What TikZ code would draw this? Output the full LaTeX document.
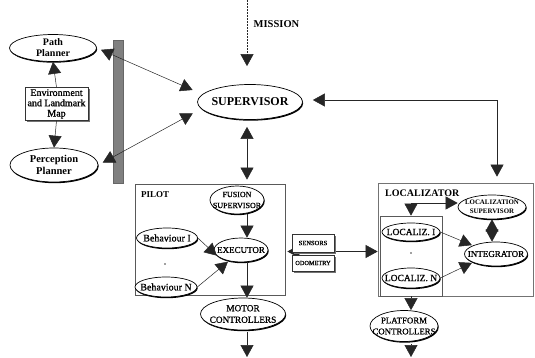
\documentclass[tikz,border=0pt]{standalone}
\usepackage{fontspec}
\setmainfont{Liberation Serif}
\newfontfamily\scanfont{Liberation Serif}[FakeBold=1]
\usetikzlibrary{shapes.geometric,arrows.meta,shadows,calc}
\begin{document}
\begin{tikzpicture}[x=1pt,y=-1pt,
  every node/.style={inner sep=0pt, align=center, font=\scanfont\fontsize{10}{11.5}\selectfont},
  ell/.style={ellipse, draw, line width=0.7pt, fill=white,
    drop shadow={shadow xshift=0.7pt, shadow yshift=-1.2pt, fill=black, opacity=1}},
  boxsh/.style={rectangle, draw=black!80, line width=0.6pt, fill=white,
    drop shadow={shadow xshift=2pt, shadow yshift=-2pt, fill=black!55, opacity=1}},
  frame/.style={rectangle, draw=black!65, line width=0.8pt, fill=white},
  tipA/.tip={Triangle[length=12pt,width=13pt]},
  arr/.style={-tipA, line width=0.5pt, draw=black!85},
  arrtwo/.style={tipA-tipA, line width=0.5pt, draw=black!85},
  bfl/.style n args={2}{font=\bfseries\fontsize{#1}{#2}\selectfont},
  rml/.style n args={2}{font=\scanfont\fontsize{#1}{#2}\selectfont}
]
\useasboundingbox (0,0) rectangle (535,358);

% left column
\node[ell, minimum width=87pt, minimum height=27pt,
  label={[bfl={10}{11}]center:Path\\Planner}] (pp) at (53,48) {};
\node[boxsh, minimum width=63pt, minimum height=33pt, rml={10}{10.3}] (env) at (56.5,104)
  {Environment\\and Landmark\\Map};
\node[ell, minimum width=88pt, minimum height=34pt,
  label={[bfl={10.5}{12}]center:Perception\\Planner}] (pc) at (54,165) {};
\filldraw[fill=black!50, draw=black!60, line width=0.4pt] (113,40) rectangle (123,183);

% supervisor
\node[ell, minimum width=105pt, minimum height=35pt,
  label={[bfl={12}{14}]center:SUPERVISOR}] (sup) at (250,102) {};
\node[bfl={10.5}{12}] (mission) at (276.5,24) {MISSION};
\coordinate (mtop) at (247,0);

% pilot
\node[frame, minimum width=150pt, minimum height=111pt] (pilot) at (210,239.5) {};
\node[bfl={9}{11}, anchor=west] (pilotlbl) at (141,195) {PILOT};
\node[ell, minimum width=54pt, minimum height=28pt,
  label={[rml={8}{11}]center:FUSION\\SUPERVISOR}] (fus) at (237,200) {};
\node[ell, minimum width=54pt, minimum height=24pt,
  label={[rml={9}{10}]center:EXECUTOR}] (exec) at (241,250) {};
\node[ell, minimum width=61pt, minimum height=20pt,
  label={[rml={10}{11}]center:Behaviour I}] (b1) at (167,238) {};
\node[ell, minimum width=62pt, minimum height=20pt,
  label={[rml={10}{11}]center:Behaviour N}] (bn) at (166,287) {};
\node[rml={9}{10}] (pdots) at (165,264) {.};
\node[ell, minimum width=85pt, minimum height=32pt,
  label={[rml={9.3}{11.5}]center:MOTOR\\CONTROLLERS}] (motor) at (243,314) {};
\coordinate (mend) at (247,357);

% localizator
\node[rectangle, draw=black!55, line width=0.7pt, fill=white,
  minimum width=155pt, minimum height=113pt] (loc) at (455.5,239.5) {};
\node[bfl={10}{11}, anchor=west] (loclbl) at (385,193) {LOCALIZATOR};
\node[rectangle, draw=black!65, line width=0.7pt,
  minimum width=62pt, minimum height=80pt] (inner) at (411,256) {};
\node[ell, minimum width=58pt, minimum height=18pt,
  label={[rml={9.5}{11}]center:LOCALIZ. I}] (li) at (411,232) {};
\node[ell, minimum width=58pt, minimum height=20pt,
  label={[rml={9.5}{11}]center:LOCALIZ. N}] (ln) at (411,278) {};
\node[rml={9}{10}] (ldots) at (411,253) {.};
\node[ell, minimum width=68pt, minimum height=24pt,
  label={[bfl={6.9}{8.5}]center:LOCALIZATION\\SUPERVISOR}] (locsup) at (492,207) {};
\node[ell, minimum width=63pt, minimum height=24pt,
  label={[rml={9}{10}]center:INTEGRATOR}] (integ) at (496,254) {};
\node[ell, minimum width=68pt, minimum height=31pt,
  label={[rml={8.8}{11}]center:PLATFORM\\CONTROLLERS}] (plat) at (404,326) {};
\coordinate (pend) at (411,357);

% sensors arrow (under boxes)
\draw[arrtwo, shorten <=2pt] ([yshift=-12pt]pilot.east) -- ([yshift=-12pt]loc.west);
\node[boxsh, minimum width=42pt, minimum height=18pt, rml={6.5}{8}] (sens) at (313,243) {SENSORS};
\node[boxsh, minimum width=42pt, minimum height=16pt, rml={6.3}{8}] (odo) at (313,263) {ODOMETRY};

% connectors
\draw[arr, densely dotted] (mtop) -- ([yshift=18pt]mtop |- sup.north);
\draw[arrtwo, shorten <=7pt, shorten >=4pt] (mtop |- sup.south) -- (mtop |- pilot.north);
\draw[arrtwo, shorten <=10pt, shorten >=6pt] ([yshift=2pt]sup.east) -| ([xshift=41.5pt]loc.north);
\draw[arrtwo, shorten <=4.5pt, shorten >=5pt] (pp.east) -- ([yshift=10pt]sup.west);
\draw[arrtwo, shorten <=5pt, shorten >=5pt] (pc.east) -- ([yshift=-9pt]sup.west);
\draw[arr] (env.north) -- (pp.south);
\draw[arr] (env.south) -- (pc.north);

\draw[arr] (mtop |- fus.south) -- (mtop |- exec.north);
\draw[arr, shorten >=1pt] (b1.east) -- (exec.195);
\draw[arr, shorten >=1pt] (bn.east) -- (exec.222);
\draw[arr] (mtop |- exec.south) -- (mtop |- motor.north);
\draw[arr, shorten <=2pt] (mtop |- motor.south) -- (mend);

\draw[arrtwo] (inner.north) |- ([yshift=4pt]locsup.west);
\draw[arrtwo] (locsup.south) -- (locsup.south |- integ.north);
\draw[arr, shorten >=1pt] (li.east) -- (integ.160);
\draw[arr, shorten >=1pt] (ln.east) -- (integ.200);
\draw[arr] (inner.south) -- (inner.south |- plat.north);
\draw[arr, shorten <=2pt] (inner.south |- plat.south) -- (pend);
\end{tikzpicture}
\end{document}
